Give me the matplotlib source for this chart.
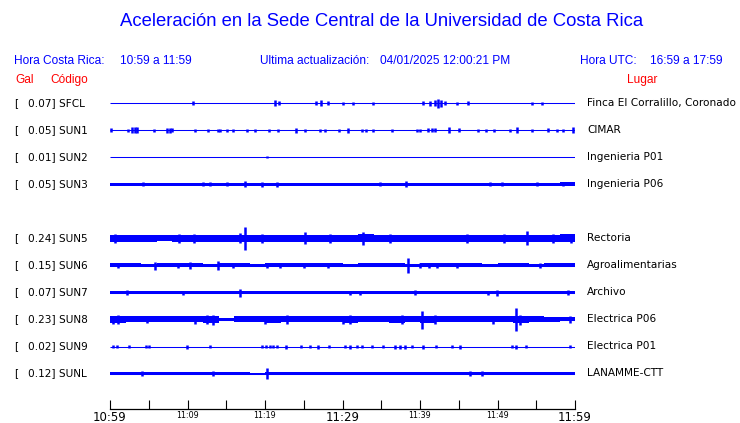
import numpy as np
import matplotlib
matplotlib.use("Agg")
import matplotlib.pyplot as plt

W, H = 740, 423
BLUE = "#0000ff"
RED = "#ff0000"
PX_PER_ROW = 27.0

codes = ["SFCL", "SUN1", "SUN2", "SUN3", "SUN5", "SUN6", "SUN7", "SUN8", "SUN9", "SUNL"]
gal = [0.07, 0.05, 0.01, 0.05, 0.24, 0.15, 0.07, 0.23, 0.02, 0.12]
places = ["Finca El Corralillo, Coronado", "CIMAR", "Ingenieria P01", "Ingenieria P06",
          "Rectoria", "Agroalimentarias", "Archivo", "Electrica P06", "Electrica P01",
          "LANAMME-CTT"]

tick_labels = ["10:59", "", "11:09", "", "11:19", "", "11:29", "", "11:39", "", "11:49", "", "11:59"]

# envelope half-amplitude per 2-minute block (30 blocks)
base_env = {
    "SFCL": [0] * 30,
    "SUN1": [0] * 30,
    "SUN2": [0] * 30,
    "SUN3": [1.5] * 29 + [2.0],
    "SUN5": [3.5, 3.5, 3.5, 3, 3.5, 3.5, 3.5, 3.5, 3.5, 3.5, 3.5, 3.5, 3.5, 3.5, 3.5,
             3.5, 4, 3.5, 3.5, 3.5, 3.5, 3.5, 3.5, 3.5, 3.5, 3.5, 3.5, 3.5, 3.5, 4],
    "SUN6": [2, 2, 1.5, 2, 2, 2, 1.5, 2, 2, 1.5, 2, 2, 2, 2, 2,
             1.5, 2, 2, 2, 1.5, 2, 2, 2, 2, 1.5, 2, 2, 1.5, 2, 2],
    "SUN7": [1.5] * 30,
    "SUN8": [3.5, 3, 3, 3, 3, 3, 3.5, 1.5, 3, 3, 3.5, 3, 3, 3, 3,
             3.5, 3, 3, 3.5, 3, 3.5, 3, 3, 3, 3, 3, 3.5, 3, 2.5, 2],
    "SUN9": [0] * 30,
    "SUNL": [1.5, 1.5, 1.5, 1.5, 1.5, 1.5, 1.5, 1.5, 1.5, 1.0, 1.5, 1.5, 1.5, 1.5, 1.5,
             1.5, 1.5, 1.5, 1.5, 1.5, 1.5, 1.5, 1.5, 1.5, 1.5, 1.5, 1.5, 1.5, 1.5, 1.5],
}

# bursts: (minute after 10:59, half-amplitude)
bursts = {
    "SFCL": [(10.7, 2), (21.3, 3), (21.8, 2), (26.6, 2), (27.2, 3), (28.1, 2), (30.1, 1.5),
             (31.4, 1.5), (33.9, 1.5), (40.4, 2), (41.3, 2.5), (41.9, 3), (42.3, 4.5),
             (42.7, 3.5), (43.2, 2), (44.8, 1.5), (46.2, 2), (54.5, 1.5), (55.7, 1.5)],
    "SUN1": [(0.1, 2), (2.3, 1.5), (2.9, 3), (3.2, 3), (3.5, 3), (5.7, 1.5), (7.4, 2.5),
             (7.7, 2.5), (8.0, 2), (11.0, 1.5), (12.6, 1.5), (13.9, 1.5), (14.2, 1.5),
             (15.1, 1.5), (15.9, 1.5), (17.7, 1.5), (18.7, 1.5), (20.5, 1.5), (21.7, 1.5),
             (24.0, 2.5), (25.2, 1.5), (27.1, 1.5), (27.7, 1.5), (29.5, 1.5), (30.7, 2.5),
             (32.5, 1.5), (33.0, 1.5), (33.9, 1.5), (36.4, 1.5), (39.6, 1.5), (40.0, 1.5),
             (41.0, 2), (41.5, 2), (41.9, 2), (43.7, 3), (45.0, 2), (47.5, 1.5), (48.5, 1.5),
             (49.5, 1.5), (51.6, 1.5), (52.5, 3), (54.5, 1.5), (56.5, 2), (57.7, 1.5),
             (58.5, 1.5), (59.7, 3)],
    "SUN2": [(20.3, 1)],
    "SUN3": [(4.3, 2), (12.0, 2), (12.9, 2), (15.1, 2), (17.4, 3), (19.6, 2.5), (21.5, 2.5),
             (34.8, 2), (38.2, 3), (49.0, 2), (50.6, 2), (55.1, 2), (58.5, 2)],
    "SUN5": [(0.6, 4.5), (8.9, 4.5), (10.8, 4.5), (16.8, 5), (17.4, 11.5), (19.6, 4.5),
             (25.2, 6), (28.4, 4.5), (32.6, 6.5), (36.1, 4.5), (46.1, 4.5), (50.8, 4.5),
             (53.8, 7), (57.2, 4.5), (59.5, 4.5)],
    "SUN6": [(1.0, 2.5), (5.8, 4), (8.8, 2.5), (10.3, 3.5), (13.9, 4.5), (15.9, 2.5),
             (20.3, 2.5), (21.9, 2.5), (25.0, 2.5), (28.1, 3), (38.5, 7.5), (40.0, 3),
             (41.2, 2.5), (42.2, 2.5), (44.8, 2.5), (55.5, 2.5)],
    "SUN7": [(2.2, 2.5), (9.4, 2), (16.8, 4), (31.0, 2), (32.3, 2), (39.4, 2.5), (48.8, 2),
             (49.9, 3), (59.1, 2.5)],
    "SUN8": [(0.4, 4), (1.0, 4.5), (4.8, 3.5), (11.0, 4), (12.5, 4.5), (13.3, 5), (20.0, 4),
             (22.8, 4.5), (30.1, 4), (31.0, 4.5), (37.7, 4.5), (40.3, 9), (41.9, 4.5),
             (49.4, 4), (52.4, 11.5), (52.9, 5), (59.4, 3.5)],
    "SUN9": [(0.4, 1.5), (0.9, 1.5), (2.5, 1.5), (4.6, 1.5), (5.0, 1.5), (9.9, 2), (12.9, 1.5),
             (19.6, 1.5), (20.1, 1.5), (20.6, 1.5), (21.0, 1.5), (21.5, 1.5), (22.7, 2),
             (24.6, 1.5), (25.8, 1.5), (26.8, 2), (28.3, 1.5), (30.3, 1.5), (31.0, 2),
             (31.9, 1.5), (32.5, 1.5), (33.8, 1.5), (35.2, 1.5), (36.8, 2), (37.4, 2),
             (38.1, 2), (39.0, 1.5), (40.4, 2), (42.1, 1.5), (44.1, 1.5), (45.2, 2),
             (51.9, 1.5), (52.4, 2), (53.7, 1.5), (59.4, 1.5)],
    "SUNL": [(4.1, 2), (13.3, 2.5), (20.3, 6), (46.5, 2), (48.0, 2.5)],
}

# layout: one empty slot between SUN3 and SUN5
row_slot = [0, 1, 2, 3, 5, 6, 7, 8, 9, 10]
TOP_ROW_PX = 103.5


def px(x, y):
    return x / W, 1 - y / H


fig = plt.figure(figsize=(W / 100, H / 100), dpi=100)
fig.patch.set_facecolor("white")

ax = fig.add_axes([110 / W, (H - 409) / H, 465 / W, (409 - 90) / H])
ax.set_xlim(0, 60)
ax.set_ylim((409 - TOP_ROW_PX) / PX_PER_ROW, (90 - TOP_ROW_PX) / PX_PER_ROW)

edges = np.arange(0, 61, 2)
for code, slot in zip(codes, row_slot):
    env = np.array(base_env[code] + [base_env[code][-1]]) / PX_PER_ROW
    ax.hlines(slot, 0, 60, color=BLUE, lw=0.75)
    if env.max() > 0:
        ax.fill_between(edges, slot - env, slot + env, step="post",
                        color=BLUE, lw=0, antialiased=False)
    for t, a in bursts[code]:
        a = a / PX_PER_ROW
        ax.vlines(t, slot - a, slot + a, color=BLUE, lw=1.8)

for s in ["top", "left", "right"]:
    ax.spines[s].set_visible(False)
ax.spines["bottom"].set_linewidth(0.9)
ax.set_yticks([])
ax.set_xticks(np.arange(0, 61, 5))
ax.set_xticklabels(tick_labels)
ax.tick_params(axis="x", direction="in", length=6.5, width=0.8, pad=1.5)
for i, lab in enumerate(ax.get_xticklabels()):
    lab.set_fontsize(8.5 if i % 6 == 0 else 5.8)
    lab.set_family("DejaVu Sans")

# header
fig.text(*px(382, 22), "Aceleración en la Sede Central de la Universidad de Costa Rica",
         color=BLUE, fontsize=13.3, family="Liberation Sans", ha="center", va="center")
hdr = dict(color=BLUE, fontsize=8.6, family="Liberation Sans", va="center")
fig.text(*px(14, 61), "Hora Costa Rica:", **hdr)
fig.text(*px(120, 61), "10:59 a 11:59", **hdr)
fig.text(*px(260, 61), "Ultima actualización:", **hdr)
fig.text(*px(380, 61), "04/01/2025 12:00:21 PM", **hdr)
fig.text(*px(580, 61), "Hora UTC:", **hdr)
fig.text(*px(650, 61), "16:59 a 17:59", **hdr)
red = dict(color=RED, fontsize=8.6, family="Liberation Sans", va="center")
fig.text(*px(15, 80), "Gal", **red)
fig.text(*px(50, 80), "Código", **red)
fig.text(*px(627, 80), "Lugar", **red)

lbl = dict(color="black", fontsize=7.6, family="DejaVu Sans", va="center")
for g, code, place, slot in zip(gal, codes, places, row_slot):
    yy = 103 + PX_PER_ROW * slot
    fig.text(*px(14, yy), "[", **lbl)
    fig.text(*px(28, yy), f"{g:.2f}] {code}", **lbl)
    fig.text(*px(587, yy), place, **lbl)

fig.savefig("out.png", dpi=100)
